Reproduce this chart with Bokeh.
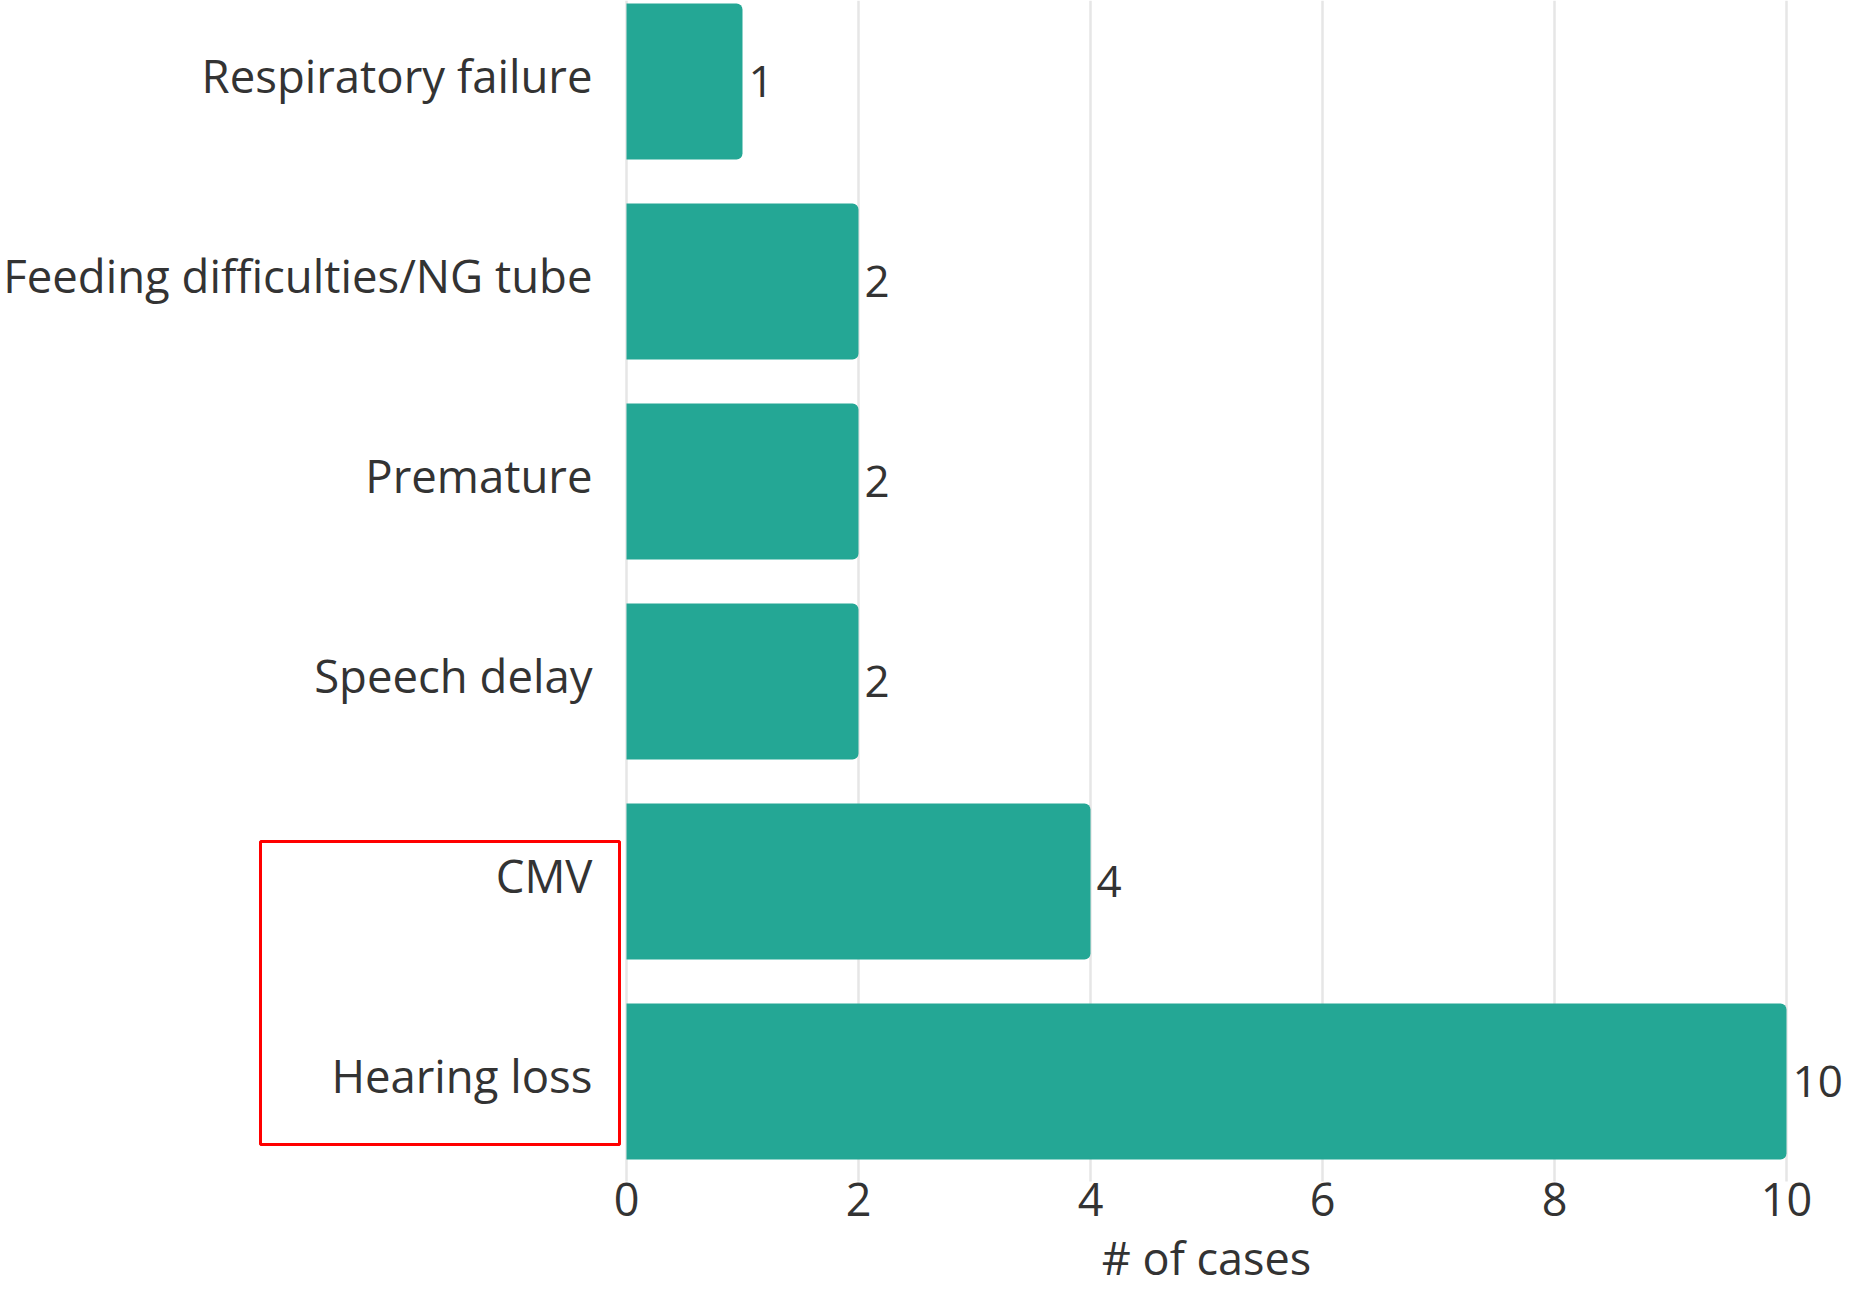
from bokeh.plotting import figure
from bokeh.models import (ColumnDataSource, Range1d, FixedTicker, LabelSet, Label,
                          BoxAnnotation, LinearAxis)
from bokeh.core.properties import value
from bokeh.embed import file_html
from bokeh.resources import INLINE

# ---- data (bottom to top) ----
categories = ["Hearing loss", "CMV", "Speech delay", "Premature",
              "Feeding difficulties/NG tube", "Respiratory failure"]
cases = [10, 4, 2, 2, 2, 1]
x_ticks = [0, 2, 4, 6, 8, 10]
x_title = "# of cases"
highlighted = ["CMV", "Hearing loss"]

FONT = "Open Sans"
TXT = "#333333"
BAR = "#24a795"
GRID = "#e6e6e6"

# ---- layout geometry (pixels) ----
W, H = 1844, 1289
X0_PX, PX_PER_X = 626, 116.0      # pixel of x=0, pixels per case
YB_PX, PX_PER_CAT = 1181, 200.0   # pixel of bottom of category band, pixels per category
LABEL_LIFT = 7 / PX_PER_CAT       # category labels sit slightly above bar centres

pos = list(range(len(categories)))
src = ColumnDataSource(dict(y=pos, cases=cases, label=[str(v) for v in cases]))

x_start = -X0_PX / PX_PER_X
x_end = (W - X0_PX) / PX_PER_X
y_start = -0.5 - (H - YB_PX) / PX_PER_CAT
y_end = -0.5 + YB_PX / PX_PER_CAT

p = figure(width=W, height=H,
           x_range=Range1d(x_start, x_end), y_range=Range1d(y_start, y_end),
           output_backend="svg", toolbar_location=None,
           x_axis_location=None, y_axis_location=None,
           min_border_left=0, min_border_right=0,
           min_border_top=0, min_border_bottom=0)
p.outline_line_color = None
p.background_fill_color = "white"
p.border_fill_color = "white"
p.xgrid.visible = False
p.ygrid.visible = False

# vertical grid lines, stopping at the bottom of the category band
p.segment(x0=x_ticks, x1=x_ticks, y0=[-0.5] * len(x_ticks), y1=[y_end] * len(x_ticks),
          line_color=GRID, line_width=2.5)

p.hbar(y="y", left=0, right="cases", height=0.78, source=src,
       fill_color=BAR, line_color=None, border_radius=(0, 6, 6, 0))

labels = LabelSet(x="cases", y="y", text="label", source=src, x_offset=6,
                  text_baseline="middle", text_align="left",
                  text_font=value(FONT), text_font_size="44px", text_color=TXT)
p.add_layout(labels)

# axes placed inside the frame
xaxis = LinearAxis(fixed_location=-0.5, ticker=FixedTicker(ticks=x_ticks))
label_pos = [i + LABEL_LIFT for i in pos]
yaxis = LinearAxis(fixed_location=0, ticker=FixedTicker(ticks=label_pos))
yaxis.major_label_overrides = {lp: c for lp, c in zip(label_pos, categories)}
for ax in (xaxis, yaxis):
    ax.axis_line_color = None
    ax.major_tick_line_color = None
    ax.minor_tick_line_color = None
    ax.major_tick_out = 0
    ax.major_tick_in = 0
    ax.major_label_text_color = TXT
    ax.major_label_text_font = FONT
xaxis.major_label_text_font_size = "45px"
yaxis.major_label_text_font_size = "45.5px"
yaxis.major_label_standoff = 34
xaxis.major_label_standoff = 1
p.add_layout(xaxis, "below")
p.add_layout(yaxis, "left")

title = Label(x=(x_ticks[0] + x_ticks[-1]) / 2, y=y_start + 2 / PX_PER_CAT, text=x_title,
              text_align="center", text_baseline="bottom",
              text_font=FONT, text_font_size="45px", text_color=TXT)
p.add_layout(title)

# red highlight box around two labels
hi = [categories.index(c) for c in highlighted]
box = BoxAnnotation(left=-366 / PX_PER_X, right=-7 / PX_PER_X,
                    top=max(hi) + 0.2, bottom=min(hi) - 0.315,
                    fill_alpha=0, line_color="#ff0000", line_alpha=1.0, line_width=3)
p.add_layout(box)

open("out.html", "w").write(file_html(p, INLINE))
